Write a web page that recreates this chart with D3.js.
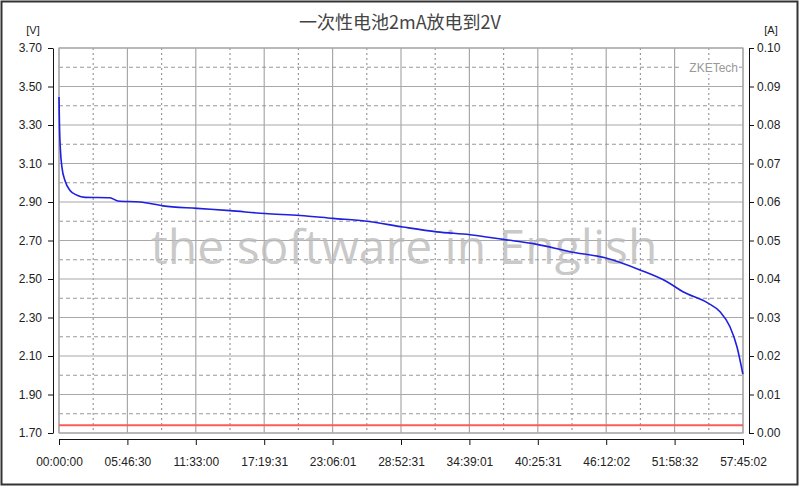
<!DOCTYPE html>
<html>
<head>
<meta charset="utf-8">
<script src="https://cdn.jsdelivr.net/npm/d3@7"></script>
<style>
body { margin: 0; background: #fff; }
svg { display: block; font-family: "Liberation Sans", Arial, sans-serif; }
.axis text { font-size: 12px; fill: #222; }
.axis path, .axis line { stroke: #111; }
</style>
</head>
<body>
<div id="chart"></div>
<script>
// discharge curve (hours, volts)
var hours = [0, 0.04, 0.12, 0.25, 0.51, 0.93, 1.52, 2.2, 4.3, 4.98, 6.84, 8.78, 11.65, 14.44, 17.39, 20.35, 23.13, 26.0, 29.04, 31.91, 34.7, 37.49, 40.36, 43.14, 46.1, 49.05, 51.33, 52.68, 54.8, 55.81, 56.65, 57.24, 57.74];
var volts = [3.445, 3.3, 3.17, 3.08, 3.01, 2.96, 2.935, 2.924, 2.922, 2.905, 2.9, 2.88, 2.867, 2.855, 2.84, 2.83, 2.815, 2.8, 2.77, 2.745, 2.73, 2.706, 2.68, 2.642, 2.61, 2.547, 2.486, 2.434, 2.375, 2.33, 2.252, 2.148, 2.006];
var currentA = 0.002;
var totalSeconds = 207902;
var timeTicks = ["00:00:00", "05:46:30", "11:33:00", "17:19:31", "23:06:01", "28:52:31", "34:39:01", "40:25:31", "46:12:02", "51:58:32", "57:45:02"];
var voltTicks = [1.7, 1.9, 2.1, 2.3, 2.5, 2.7, 2.9, 3.1, 3.3, 3.5, 3.7];
var ampTicks = [0, 0.01, 0.02, 0.03, 0.04, 0.05, 0.06, 0.07, 0.08, 0.09, 0.1];

var W = 800, H = 487;
var pL = 59, pR = 743, pT = 48, pB = 433;

var svg = d3.select("#chart").append("svg").attr("width", W).attr("height", H);

var x = d3.scaleLinear().domain([0, totalSeconds]).range([pL, pR]);
var y = d3.scaleLinear().domain([1.7, 3.7]).range([pB, pT]);
var yA = d3.scaleLinear().domain([0, 0.1]).range([pB, pT]);

// outer frame
svg.append("rect").attr("x", 1.5).attr("y", 1.5).attr("width", W - 4).attr("height", H - 4)
    .attr("fill", "none").attr("stroke", "#333").attr("stroke-width", 2);

// title
svg.append("text").attr("x", 400).attr("y", 29).attr("text-anchor", "middle")
    .style("font-family", "'Noto Sans CJK SC', sans-serif").style("font-size", "18px")
    .attr("fill", "#444").text("一次性电池2mA放电到2V");

var grid = svg.append("g");
var xStep = totalSeconds / 10;
// vertical grid
d3.range(0, 21).forEach(function (i) {
  var px = x(i * xStep / 2);
  grid.append("line").attr("x1", px).attr("x2", px).attr("y1", pT).attr("y2", pB)
      .attr("stroke", i % 2 ? "#999" : "#a8a8a8")
      .attr("stroke-width", 1.2)
      .attr("stroke-dasharray", i % 2 ? "2,3" : null);
});
// horizontal grid
d3.range(0, 21).forEach(function (i) {
  var py = y(1.7 + i * 0.1);
  grid.append("line").attr("x1", pL).attr("x2", pR).attr("y1", py).attr("y2", py)
      .attr("stroke", i % 2 ? "#999" : "#a8a8a8")
      .attr("stroke-width", 1.2)
      .attr("stroke-dasharray", i % 2 ? "4,3" : null);
});
grid.append("rect").attr("x", pL).attr("y", pT).attr("width", pR - pL).attr("height", pB - pT)
    .attr("fill", "none").attr("stroke", "#a8a8a8").attr("stroke-width", 1.2);

// ZKETech label
svg.append("rect").attr("x", 681).attr("y", 61).attr("width", 58).attr("height", 13).attr("fill", "#fff");
svg.append("text").attr("x", 738).attr("y", 72).attr("text-anchor", "end")
    .style("font-size", "12px").attr("fill", "#999").text("ZKETech");

// watermark
svg.append("text").attr("x", 404).attr("y", 264).attr("text-anchor", "middle")
    .style("font-family", "'Open Sans', sans-serif").style("font-size", "48px")
    .attr("fill", "#bbb").attr("fill-opacity", 0.8).text("the software in English");

// current line
svg.append("line").attr("x1", pL).attr("x2", pR).attr("y1", yA(currentA)).attr("y2", yA(currentA))
    .attr("stroke", "#ff5a5a").attr("stroke-width", 2);

// voltage curve
var pts = hours.map(function (h, i) { return [h * 3600, volts[i]]; });
var line = d3.line().curve(d3.curveMonotoneX)
    .x(function (d) { return x(d[0]); }).y(function (d) { return y(d[1]); });
svg.append("path").datum(pts).attr("d", line)
    .attr("fill", "none").attr("stroke", "#1f1fe0").attr("stroke-width", 1.6);

// axes
svg.append("g").attr("class", "axis").attr("transform", "translate(53,0)")
    .call(d3.axisLeft(y).tickValues(voltTicks).tickFormat(d3.format(".2f")).tickSize(5).tickSizeOuter(0).tickPadding(6));
svg.append("g").attr("class", "axis").attr("transform", "translate(749,0)")
    .call(d3.axisRight(yA).tickValues(ampTicks).tickFormat(d3.format(".2f")).tickSize(5).tickSizeOuter(0).tickPadding(3));
svg.append("g").attr("class", "axis").attr("transform", "translate(0,439)")
    .call(d3.axisBottom(x).tickValues(d3.range(11).map(function (i) { return i * xStep; }))
      .tickFormat(function (d, i) { return timeTicks[i]; }).tickSize(6).tickSizeOuter(0).tickPadding(12));

svg.append("text").attr("x", 33).attr("y", 34).attr("text-anchor", "middle")
    .style("font-size", "11px").attr("fill", "#222").text("[V]");
svg.append("text").attr("x", 771).attr("y", 34).attr("text-anchor", "middle")
    .style("font-size", "11px").attr("fill", "#222").text("[A]");
</script>
</body>
</html>
